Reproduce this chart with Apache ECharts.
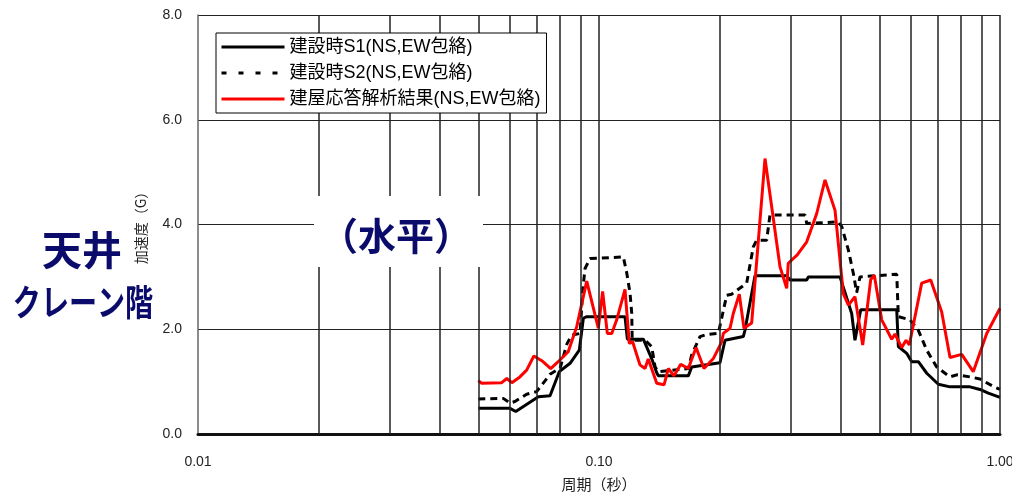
<!DOCTYPE html>
<html>
<head>
<meta charset="utf-8">
<script src="https://cdn.jsdelivr.net/npm/echarts@6/dist/echarts.min.js"></script>
<style>
html, body { margin: 0; padding: 0; background: #fff; }
#main { width: 1012px; height: 494px; }
</style>
</head>
<body>
<div id="main"></div>
<script>
// 周期(秒), 加速度(G)
var seriesNames = ['建設時S1(NS,EW包絡)', '建設時S2(NS,EW包絡)', '建屋応答解析結果(NS,EW包絡)'];

var s1Data = [
    [0.050, 0.49], [0.060, 0.49], [0.062, 0.43], [0.0706, 0.71], [0.0755, 0.73], [0.0796, 1.19],
    [0.0847, 1.35], [0.0893, 1.60], [0.0914, 2.21], [0.0932, 2.24], [0.1161, 2.24], [0.1177, 1.81],
    [0.129, 1.81], [0.1353, 1.44], [0.1393, 1.17], [0.1406, 1.11], [0.167, 1.11], [0.1703, 1.28],
    [0.2003, 1.36], [0.2062, 1.79], [0.229, 1.86], [0.2312, 1.98], [0.2449, 3.02], [0.2938, 3.02],
    [0.2995, 2.94], [0.3296, 2.94], [0.3327, 3.00], [0.399, 3.00], [0.4267, 2.30], [0.4348, 1.79],
    [0.4493, 2.37], [0.5527, 2.37], [0.5578, 1.67], [0.5852, 1.54], [0.6024, 1.38], [0.6257, 1.38],
    [0.6567, 1.16], [0.7018, 0.95], [0.7505, 0.90], [0.8418, 0.90], [0.8915, 0.85], [0.935, 0.78],
    [1.0, 0.70]
];

var s2Data = [
    [0.050, 0.67], [0.0577, 0.68], [0.060, 0.59], [0.0617, 0.62], [0.066, 0.76], [0.0699, 0.81],
    [0.0755, 1.14], [0.080, 1.26], [0.0832, 1.72], [0.0855, 1.89], [0.0897, 1.92], [0.0911, 2.75],
    [0.0923, 3.16], [0.095, 3.35], [0.115, 3.38], [0.1173, 3.07], [0.1195, 2.69], [0.1207, 2.30],
    [0.1210, 1.79], [0.1302, 1.79], [0.1353, 1.67], [0.138, 1.28], [0.1406, 1.19], [0.167, 1.25],
    [0.1703, 1.51], [0.1786, 1.86], [0.1856, 1.90], [0.1984, 1.92], [0.2082, 2.65], [0.2143, 2.67],
    [0.2335, 2.88], [0.2425, 3.57], [0.2473, 3.70], [0.2619, 3.70], [0.2669, 4.18], [0.3264, 4.18],
    [0.3296, 4.02], [0.3953, 4.05], [0.4031, 3.96], [0.4187, 3.51], [0.4307, 3.07], [0.4391, 2.70],
    [0.4476, 3.00], [0.5527, 3.05], [0.5578, 2.24], [0.5966, 2.18], [0.6257, 1.98], [0.6567, 1.60],
    [0.6952, 1.28], [0.7505, 1.09], [0.7798, 1.13], [0.8418, 1.09], [0.8915, 1.05], [0.972, 0.89],
    [1.0, 0.85]
];

var resData = [
    [0.050, 1.02], [0.051, 0.97], [0.0572, 0.98], [0.0589, 1.06], [0.0606, 0.98], [0.0635, 1.09],
    [0.066, 1.22], [0.0688, 1.49], [0.072, 1.40], [0.0758, 1.25], [0.0791, 1.38], [0.0838, 1.57],
    [0.088, 2.05], [0.0932, 2.92], [0.0996, 2.02], [0.1021, 2.72], [0.1049, 1.92], [0.1076, 1.92],
    [0.1107, 2.18], [0.1161, 2.76], [0.119, 1.73], [0.1213, 1.76], [0.1265, 1.32], [0.1302, 1.25],
    [0.1327, 1.43], [0.1393, 0.97], [0.1453, 0.94], [0.1489, 1.25], [0.1538, 1.11], [0.1599, 1.33],
    [0.167, 1.25], [0.1746, 1.65], [0.1827, 1.25], [0.1928, 1.44], [0.2023, 1.76], [0.2042, 1.92],
    [0.2122, 2.02], [0.2162, 2.30], [0.2238, 2.67], [0.2299, 2.02], [0.2403, 2.12], [0.2594, 5.26],
    [0.2828, 3.19], [0.2938, 2.78], [0.2965, 3.26], [0.3122, 3.42], [0.3296, 3.67], [0.3491, 4.21],
    [0.3661, 4.85], [0.3878, 4.27], [0.4067, 2.68], [0.4187, 2.46], [0.4348, 2.62], [0.4546, 1.70],
    [0.476, 2.95], [0.4859, 3.03], [0.507, 2.18], [0.537, 1.81], [0.5472, 1.91], [0.5688, 1.65],
    [0.583, 1.79], [0.5941, 1.70], [0.6378, 2.88], [0.6718, 2.94], [0.7155, 2.33], [0.7505, 1.46],
    [0.8027, 1.52], [0.8577, 1.19], [0.9266, 1.92], [1.0, 2.40]
];

// vertical grid lines of the log axis
var gridPeriods = [0.02, 0.03, 0.04, 0.05, 0.06, 0.07, 0.08, 0.09, 0.1,
    0.2, 0.3, 0.4, 0.5, 0.6, 0.7, 0.8, 0.9, 1.0];

var navy = '#0b0b6b';
var latin = '"Liberation Sans", "Noto Sans CJK JP", sans-serif';

var myChart = echarts.init(document.getElementById('main'));
var option = {
    animation: false,
    grid: { left: 198, right: 12, top: 15, bottom: 60, outerBoundsMode: 'none', containLabel: false },
    legend: {
        data: [
            { name: seriesNames[0] },
            { name: seriesNames[1], lineStyle: { type: [5, 12] } },
            { name: seriesNames[2] }
        ],
        orient: 'vertical',
        left: 216,
        top: 33,
        z: 20,
        padding: [4, 6, 4, 4],
        itemGap: 6,
        itemWidth: 63,
        itemHeight: 14,
        backgroundColor: '#fff',
        borderColor: '#000',
        borderWidth: 1,
        lineStyle: { width: 3 },
        itemStyle: { color: 'rgba(0,0,0,0)', borderWidth: 0, opacity: 0 },
        textStyle: { fontSize: 18, lineHeight: 20, color: '#000', fontFamily: latin }
    },
    xAxis: {
        type: 'log',
        logBase: 10,
        min: 0.01,
        max: 1,
        name: '周期（秒）',
        nameLocation: 'middle',
        nameGap: 43,
        nameTextStyle: { fontSize: 15, color: '#222', fontFamily: '"Noto Sans CJK JP", sans-serif' },
        axisLine: { lineStyle: { color: '#111', width: 3 } },
        axisTick: { show: false },
        splitLine: { show: false },
        axisLabel: {
            fontSize: 14, color: '#222', margin: 21, fontFamily: latin,
            formatter: function (v) { return v.toFixed(2); }
        }
    },
    yAxis: {
        type: 'value',
        min: 0,
        max: 8,
        interval: 2,
        name: '加速度（G）',
        nameLocation: 'middle',
        nameRotate: 90,
        nameGap: 50,
        nameTextStyle: { fontSize: 14, color: '#222', fontFamily: '"Noto Sans CJK JP", sans-serif' },
        axisLine: { show: true, lineStyle: { color: '#666', width: 1.5 } },
        axisTick: { show: false },
        splitLine: { lineStyle: { color: '#222', width: 1 } },
        axisLabel: {
            fontSize: 14, color: '#222', margin: 16, fontFamily: latin,
            formatter: function (v) { return v.toFixed(1); }
        }
    },
    series: [{
        name: seriesNames[0],
        type: 'line',
        data: s1Data,
        symbol: 'none',
        lineStyle: { color: '#000', width: 3 },
        itemStyle: { color: '#000' },
        markLine: {
            silent: true,
            symbol: 'none',
            label: { show: false },
            lineStyle: { color: '#222', width: 1.5, type: 'solid' },
            data: gridPeriods.map(function (p) { return { xAxis: p }; })
        },
        z: 3
    }, {
        name: seriesNames[1],
        type: 'line',
        data: s2Data,
        symbol: 'none',
        lineStyle: { color: '#000', width: 3, type: [7, 5] },
        itemStyle: { color: '#000' },
        z: 3
    }, {
        name: seriesNames[2],
        type: 'line',
        data: resData,
        symbol: 'none',
        lineStyle: { color: '#ff0000', width: 3 },
        itemStyle: { color: '#ff0000' },
        z: 4
    }],
    graphic: [{
        type: 'text',
        x: 82, y: 250, z: 50,
        style: { text: '天井', font: 'bold 40px "Noto Sans CJK JP"', fill: navy, textAlign: 'center', textVerticalAlign: 'middle' }
    }, {
        type: 'text',
        x: 83, y: 302, scaleX: 0.78, z: 50,
        style: { text: 'クレーン階', font: 'bold 36px "Noto Sans CJK JP"', fill: navy, textAlign: 'center', textVerticalAlign: 'middle' }
    }, {
        type: 'rect',
        shape: { x: 314, y: 196, width: 169, height: 71 },
        style: { fill: '#fff' },
        z: 50
    }, {
        type: 'text',
        x: 396, y: 236, z: 51,
        style: { text: '（水平）', font: 'bold 38px "Noto Sans CJK JP"', fill: navy, textAlign: 'center', textVerticalAlign: 'middle' }
    }]
};
myChart.setOption(option);
</script>
</body>
</html>
